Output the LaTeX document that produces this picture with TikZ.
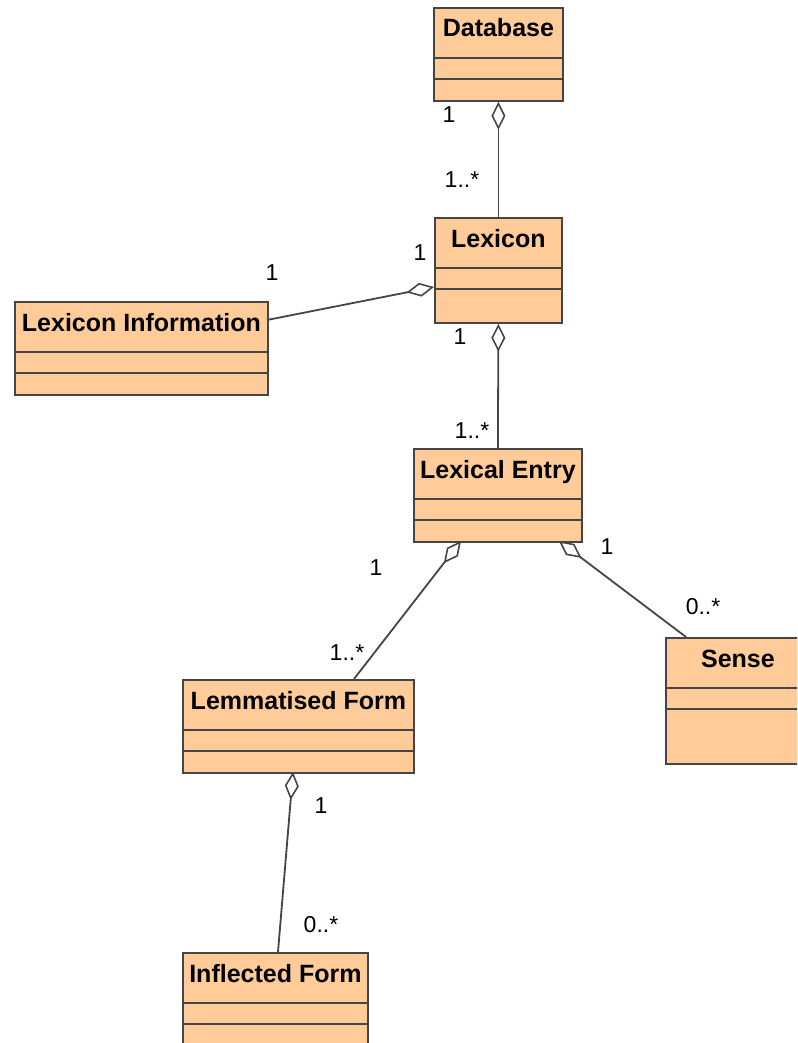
\documentclass[tikz,border=0pt]{standalone}
\usepackage{fontspec}
\setmainfont{Liberation Sans}
\usetikzlibrary{arrows.meta,calc}

\definecolor{classfill}{HTML}{FFCC99}
\definecolor{classline}{HTML}{454545}

\tikzset{
  classbox/.style={draw=classline, fill=classfill, line width=1.8pt,
    rectangle, inner sep=0pt, anchor=north west},
  classtitle/.style={font=\bfseries\fontsize{25}{29}\selectfont,
    inner sep=0pt, anchor=base},
  divider/.style={draw=classline, line width=1.8pt},
  mult/.style={font=\fontsize{23}{27}\selectfont, inner sep=0pt, anchor=center},
  aggr/.style={draw=classline, line width=1.8pt,
    {Diamond[open, fill=white, length=28pt, width=14pt, line width=1.6pt]}-}
}

% \classbox{name}{x}{y}{width}{height}{title}
\newcommand{\classbox}[6]{%
  \node[classbox, minimum width=#4pt, minimum height=#5pt] (#1) at (#2,#3) {};
  \node[classtitle] (#1-title) at ($(#1.north)+(0,30)$) {#6};
  \draw[divider] ($(#1.north west)+(0,51)$) -- ($(#1.north east)+(0,51)$);
  \draw[divider] ($(#1.north west)+(0,72)$) -- ($(#1.north east)+(0,72)$);
}

\begin{document}
\begin{tikzpicture}[x=1pt, y=-1pt]
  \useasboundingbox (0,0) rectangle (797,1043);
  \clip (0,0) rectangle (797,1043);

  % classes
  \classbox{db}{433}{7}{129}{93}{Database}
  \classbox{lex}{434}{217}{127}{105}{Lexicon}
  \classbox{info}{14}{301}{253}{93}{Lexicon Information}
  \classbox{entry}{413}{448}{168}{93}{Lexical Entry}
  \classbox{sense}{665}{637}{144}{126}{Sense}
  \classbox{lemma}{182}{679}{231}{93}{Lemmatised Form}
  \classbox{infl}{182}{952}{185}{120}{Inflected Form}

  % connector end points on the class borders
  \coordinate (lex-w)    at (434,287);
  \coordinate (info-e)   at (267,320);
  \coordinate (entry-sl) at (461,541);
  \coordinate (entry-sr) at (559,541);
  \coordinate (lemma-n)  at (354,679);
  \coordinate (sense-n)  at (686,637);
  \coordinate (lemma-s)  at (293,772);
  \coordinate (infl-n)   at (278,952);

  % aggregations (diamond at the whole)
  \draw[aggr] (db.south) -- (lex.north);
  \draw[aggr] (lex-w) -- (info-e);
  \draw[aggr] (lex.south) -- (entry.north);
  \draw[aggr] (entry-sl) -- (lemma-n);
  \draw[aggr] (entry-sr) -- (sense-n);
  \draw[aggr] (lemma-s) -- (infl-n);

  % multiplicities
  \node[mult] (m1)  at (449,115) {1};
  \node[mult] (m2)  at (462,180) {1..*};
  \node[mult] (m3)  at (420,253) {1};
  \node[mult] (m4)  at (272,273) {1};
  \node[mult] (m5)  at (460,337) {1};
  \node[mult] (m6)  at (472,431) {1..*};
  \node[mult] (m7)  at (376,568) {1};
  \node[mult] (m8)  at (347,653) {1..*};
  \node[mult] (m9)  at (607,547) {1};
  \node[mult] (m10) at (703,607) {0..*};
  \node[mult] (m11) at (321,806) {1};
  \node[mult] (m12) at (321,925) {0..*};
\end{tikzpicture}
\end{document}
